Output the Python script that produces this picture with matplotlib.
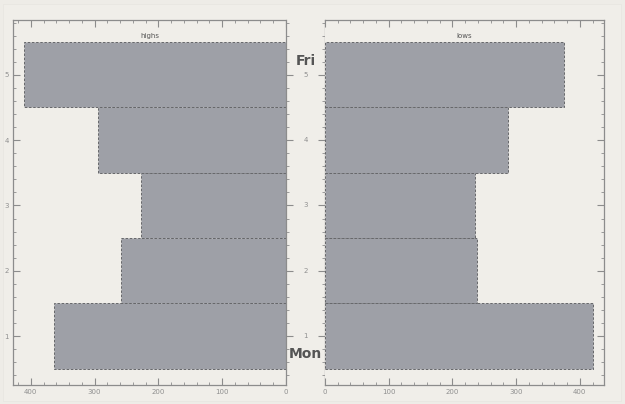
import matplotlib.pyplot as plt
from matplotlib.patches import Rectangle
from matplotlib.ticker import MultipleLocator

days = [1, 2, 3, 4, 5]
day_names = ['Mon', 'Tue', 'Wed', 'Thu', 'Fri']
highs = [363, 258, 227, 294, 411]
lows = [421, 239, 235, 287, 375]

bg = '#f0eee9'
bar_col = '#9ea0a7'
edge_col = '#66676a'
axis_col = '#8c8c8c'
tick_txt = '#8f8f8f'

fig = plt.figure(figsize=(6.25, 4.04), dpi=100, facecolor='#eeece7')
fig.patches.append(Rectangle((0.004, 0.008), 0.99, 0.982, transform=fig.transFigure,
                             facecolor=bg, edgecolor='#e8e6e1', lw=0.6, zorder=-10))

bot, h = 0.047, 0.9035
ax_l = fig.add_axes([0.0208, bot, 0.4368, h])
ax_m = fig.add_axes([0.4576, bot, 0.0624, h])
ax_r = fig.add_axes([0.52, bot, 0.4464, h])

for ax in (ax_l, ax_m, ax_r):
    ax.set_facecolor(bg)
    ax.set_ylim(0.25, 5.84)
    for s in ax.spines.values():
        s.set_color(axis_col)
        s.set_linewidth(0.9)

ax_l.barh(days, highs, height=1.0, color=bar_col, edgecolor=edge_col,
          linestyle=(0, (2.5, 1.8)), linewidth=0.7)
ax_r.barh(days, lows, height=1.0, color=bar_col, edgecolor=edge_col,
          linestyle=(0, (2.5, 1.8)), linewidth=0.7)

ax_l.set_xlim(428, 0)
ax_r.set_xlim(0, 438)

for ax in (ax_l, ax_r):
    ax.xaxis.set_major_locator(MultipleLocator(100))
    ax.xaxis.set_minor_locator(MultipleLocator(20))
    ax.yaxis.set_major_locator(MultipleLocator(1))
    ax.yaxis.set_minor_locator(MultipleLocator(0.2))
    ax.tick_params(which='both', direction='in', colors=axis_col,
                   labelcolor=tick_txt, labelsize=5, top=True, pad=3)
    ax.tick_params(which='major', length=5, width=0.8)
    ax.tick_params(which='minor', length=2.5, width=0.6)

ax_l.tick_params(which='both', left=True, right=False)
ax_r.tick_params(which='both', left=False, right=True, labelleft=False)
ax_r.spines['left'].set_visible(False)
ax_l.spines['right'].set_visible(False)

ax_l.set_title('highs', fontsize=5, color='#555555', y=0.952, pad=0)
ax_r.set_title('lows', fontsize=5, color='#555555', y=0.952, pad=0)

# middle strip with the day scale
ax_m.set_xlim(0, 1)
ax_m.yaxis.set_major_locator(MultipleLocator(1))
ax_m.yaxis.set_minor_locator(MultipleLocator(0.2))
ax_m.tick_params(which='both', direction='in', colors=axis_col, labelcolor=tick_txt,
                 labelsize=5, left=True, right=True, labelleft=False, bottom=False,
                 top=False, labelbottom=False)
ax_m.tick_params(which='major', length=5, width=0.8)
ax_m.tick_params(which='minor', length=2.5, width=0.6)
ax_m.spines['top'].set_visible(False)
ax_m.spines['bottom'].set_visible(False)
ax_m.set_xticks([])
for d in days:
    ax_m.text(0.5, d, str(d), ha='center', va='center', fontsize=5, color=tick_txt)
ax_m.text(0.5, days[-1] + 0.21, day_names[-1], ha='center', va='center',
          fontsize=10, fontweight='bold', color='#555555')
ax_m.text(0.5, days[0] - 0.27, day_names[0], ha='center', va='center',
          fontsize=10, fontweight='bold', color='#555555')

fig.savefig('out.png', dpi=100, facecolor=fig.get_facecolor())
